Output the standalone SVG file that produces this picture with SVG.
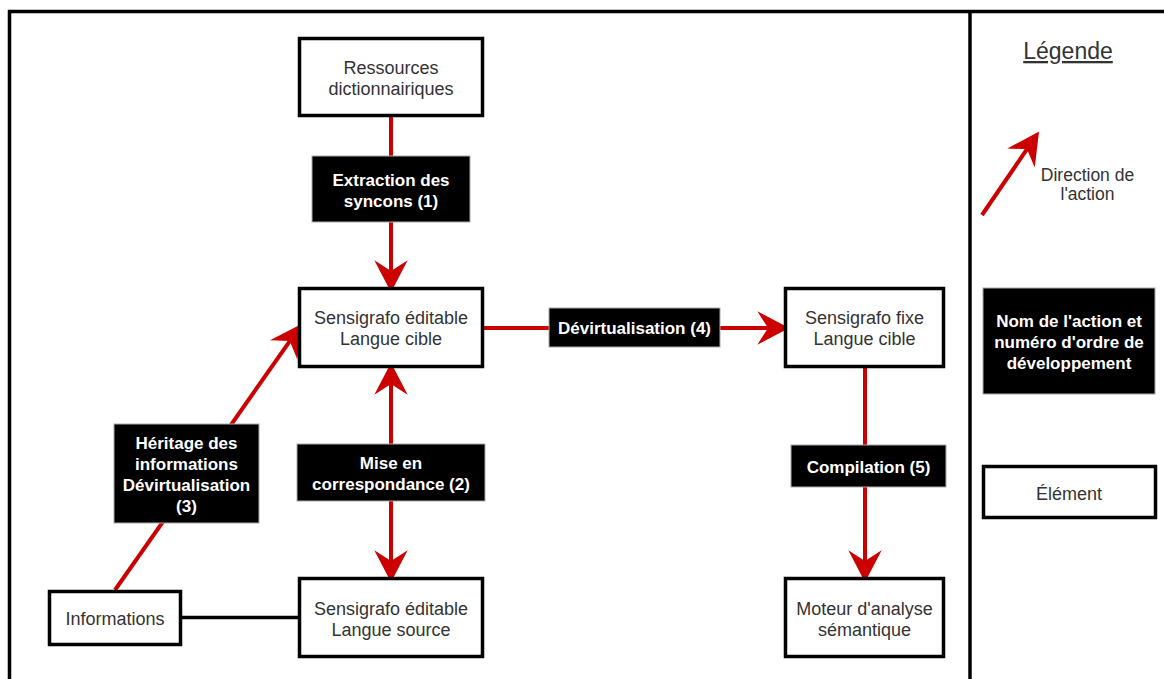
<svg xmlns="http://www.w3.org/2000/svg" width="1164" height="679" viewBox="0 0 1164 679">
<style>
.node{fill:#fff;stroke:#000;stroke-width:3.5}
.lbl{fill:#000;stroke:#aaa;stroke-width:1}
.t{font-family:"Liberation Sans",Arial,sans-serif;font-size:18px;fill:#333;text-anchor:middle}
.b{font-family:"Liberation Sans",Arial,sans-serif;font-size:17px;font-weight:bold;fill:#fff;text-anchor:middle}
.red{fill:none;stroke:#CC0000;stroke-width:4}
.blk{fill:none;stroke:#000;stroke-width:3.5}
</style>
<defs>
<marker id="ah" markerUnits="userSpaceOnUse" markerWidth="40" markerHeight="40" refX="0" refY="0" viewBox="-10 -15 30 30" orient="auto-start-reverse" overflow="visible">
<path d="M16,0 L-8,-12.5 L0,0 L-8,12.5 Z" fill="#CC0000"/>
</marker>
</defs>
<rect x="0" y="0" width="1164" height="679" fill="#fff"/>
<g id="frame">
<rect x="9.5" y="11.5" width="1170" height="690" fill="none" stroke="#000" stroke-width="3.5"/>
<line x1="970" y1="11.5" x2="970" y2="690" stroke="#000" stroke-width="3.5"/>
</g>
<g id="connectors">
<line class="red" x1="391" y1="117" x2="391" y2="271" marker-end="url(#ah)"/>
<line class="red" x1="391" y1="384" x2="391" y2="561" marker-start="url(#ah)" marker-end="url(#ah)"/>
<line class="red" x1="115" y1="590" x2="289.8" y2="341.1" marker-end="url(#ah)"/>
<line class="red" x1="484" y1="328" x2="768" y2="328" marker-end="url(#ah)"/>
<line class="red" x1="865" y1="368" x2="865" y2="561" marker-end="url(#ah)"/>
<line class="blk" x1="182" y1="617.5" x2="298" y2="617.5"/>
</g>
<g id="n-ressources">
<rect class="node" x="299.5" y="38.5" width="183" height="77"/>
<text class="t" x="391" y="74">Ressources</text>
<text class="t" x="391" y="95">dictionnairiques</text>
</g>
<g id="n-cible">
<rect class="node" x="299.5" y="288.5" width="183" height="78"/>
<text class="t" x="391" y="324">Sensigrafo éditable</text>
<text class="t" x="391" y="345">Langue cible</text>
</g>
<g id="n-source">
<rect class="node" x="299.5" y="578.5" width="183" height="78"/>
<text class="t" x="391" y="614.5">Sensigrafo éditable</text>
<text class="t" x="391" y="635.5">Langue source</text>
</g>
<g id="n-informations">
<rect class="node" x="49.5" y="591.5" width="131" height="53"/>
<text class="t" x="115" y="624.5">Informations</text>
</g>
<g id="n-fixe">
<rect class="node" x="785.5" y="288.5" width="158" height="78"/>
<text class="t" x="864.5" y="324">Sensigrafo fixe</text>
<text class="t" x="864.5" y="345">Langue cible</text>
</g>
<g id="n-moteur">
<rect class="node" x="785.5" y="578.5" width="158" height="78"/>
<text class="t" x="864.5" y="614.5">Moteur d'analyse</text>
<text class="t" x="864.5" y="635.5">sémantique</text>
</g>
<g id="l-extraction">
<rect class="lbl" x="312" y="156" width="158" height="66"/>
<text class="b" x="391" y="186">Extraction des</text>
<text class="b" x="391" y="207">syncons (1)</text>
</g>
<g id="l-mise">
<rect class="lbl" x="297" y="444" width="188" height="57"/>
<text class="b" x="391" y="469">Mise en</text>
<text class="b" x="391" y="490">correspondance (2)</text>
</g>
<g id="l-heritage">
<rect class="lbl" x="114" y="424" width="145" height="99"/>
<text class="b" x="186.5" y="449">Héritage des</text>
<text class="b" x="186.5" y="470">informations</text>
<text class="b" x="186.5" y="491">Dévirtualisation</text>
<text class="b" x="186.5" y="512">(3)</text>
</g>
<g id="l-devirt">
<rect class="lbl" x="549" y="308" width="171" height="39"/>
<text class="b" x="634.5" y="334">Dévirtualisation (4)</text>
</g>
<g id="l-compilation">
<rect class="lbl" x="791" y="445" width="155" height="42"/>
<text class="b" x="868.5" y="472.5">Compilation (5)</text>
</g>
<g id="legend">
<text class="t" x="1068" y="59" style="font-size:23px;text-decoration:underline">Légende</text>
<line class="red" x1="982" y1="215" x2="1027" y2="149.2" marker-end="url(#ah)"/>
<text class="t" x="1087.5" y="181" style="font-size:17.5px">Direction de</text>
<text class="t" x="1087.5" y="200" style="font-size:17.5px">l'action</text>
<rect class="lbl" x="983" y="288" width="172" height="106"/>
<text class="b" x="1069" y="327">Nom de l'action et</text>
<text class="b" x="1069" y="348">numéro d'ordre de</text>
<text class="b" x="1069" y="369">développement</text>
<rect class="node" x="983.5" y="466.5" width="172" height="51"/>
<text class="t" x="1069" y="499.5">Élément</text>
</g>
</svg>
